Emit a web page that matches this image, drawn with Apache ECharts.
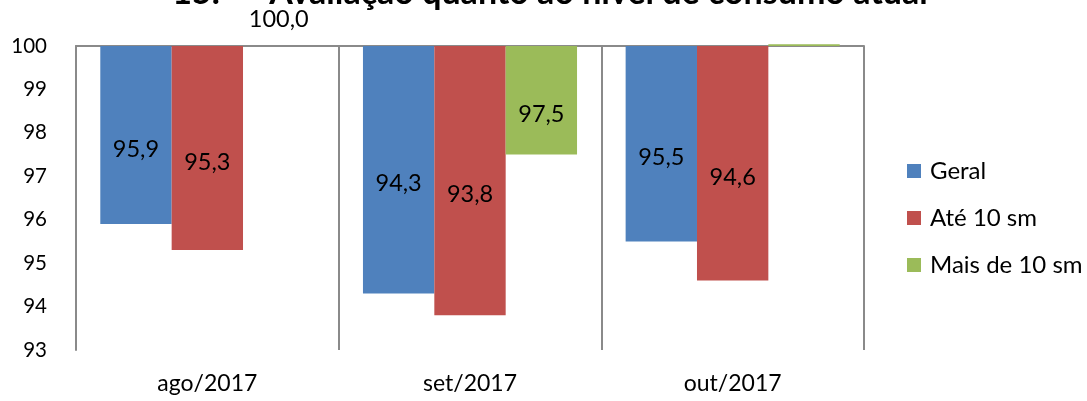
<!DOCTYPE html>
<html>
<head>
<meta charset="utf-8">
<script src="https://cdn.jsdelivr.net/npm/echarts@6/dist/echarts.min.js"></script>
<style>
  html, body { margin: 0; padding: 0; background: #fff; }
  #chart { width: 1087px; height: 401px; }
</style>
</head>
<body>
<div id="chart"></div>
<script>
// values
const categories = ['ago/2017', 'set/2017', 'out/2017'];
const geral = [95.9, 94.3, 95.5];
const ate10 = [95.3, 93.8, 94.6];
const mais10 = [100.0, 97.5, 100.04];
const yTicks = [93, 94, 95, 96, 97, 98, 99, 100];

const TOP = 100; // bars hang down from this level
const font = 'Lato, "Open Sans", sans-serif';
const fmt = v => (v + TOP).toFixed(1).replace('.', ',');

// bars are drawn as (value - 100) so they grow down from the top axis
function toBars(arr) {
  return arr.map(v => {
    const d = +(v - TOP).toFixed(3);
    if (d > 0) return { value: d, label: { show: false } };
    if (d === 0) return { value: d, label: { position: 'top', distance: 15, offset: [0, 0] } };
    return d;
  });
}

let myChart = echarts.init(document.getElementById('chart'));

const barLabel = {
  show: true,
  position: 'inside',
  offset: [0, 14],
  color: '#000',
  fontFamily: font,
  fontSize: 23.5,
  formatter: p => fmt(p.value)
};

let option = {
  animation: false,
  title: {
    text: '15.      Avaliação quanto ao nível de consumo atual',
    left: 545,
    textAlign: 'center',
    top: -29,
    textStyle: { fontFamily: font, fontSize: 34, fontWeight: 'bold', color: '#000' }
  },
  legend: {
    orient: 'vertical',
    left: 907,
    top: 159,
    padding: 0,
    itemWidth: 14,
    itemHeight: 14,
    itemGap: 23,
    icon: 'rect',
    textStyle: { fontFamily: font, fontSize: 24, color: '#000', padding: [0, 0, 0, 4] },
    data: ['Geral', 'Até 10 sm', 'Mais de 10 sm']
  },
  grid: { left: 76, right: 223, top: 46, bottom: 51 },
  xAxis: [
    {
      type: 'category',
      data: categories,
      position: 'bottom',
      axisLine: { show: false },
      axisTick: { show: false },
      splitLine: { show: true, interval: 0, lineStyle: { color: '#8a8a8a', width: 2 } },
      axisLabel: { margin: 22, color: '#000', fontFamily: font, fontSize: 23 }
    },
    {
      type: 'category',
      data: categories,
      position: 'top',
      axisLine: { show: true, onZero: false, lineStyle: { color: '#8a8a8a', width: 2 } },
      axisTick: { show: false },
      axisLabel: { show: false }
    }
  ],
  yAxis: {
    type: 'value',
    min: yTicks[0] - TOP,
    max: yTicks[yTicks.length - 1] - TOP,
    interval: 1,
    axisLine: { show: true, lineStyle: { color: '#8a8a8a', width: 2 } },
    axisTick: { show: false },
    splitLine: { show: false },
    axisLabel: {
      margin: 29,
      color: '#000',
      fontFamily: font,
      fontSize: 20.5,
      formatter: v => String(Math.round(v + TOP))
    }
  },
  series: [
    {
      name: 'Geral',
      type: 'bar',
      barGap: '0%',
      barCategoryGap: '18.5%',
      itemStyle: { color: '#4F81BD' },
      label: barLabel,
      data: toBars(geral)
    },
    {
      name: 'Até 10 sm',
      type: 'bar',
      barGap: '0%',
      barCategoryGap: '18.5%',
      itemStyle: { color: '#C0504D' },
      label: barLabel,
      data: toBars(ate10)
    },
    {
      name: 'Mais de 10 sm',
      type: 'bar',
      barGap: '0%',
      barCategoryGap: '18.5%',
      clip: false,
      itemStyle: { color: '#9BBB59' },
      label: barLabel,
      data: toBars(mais10)
    }
  ]
};

myChart.setOption(option, true);
</script>
</body>
</html>
